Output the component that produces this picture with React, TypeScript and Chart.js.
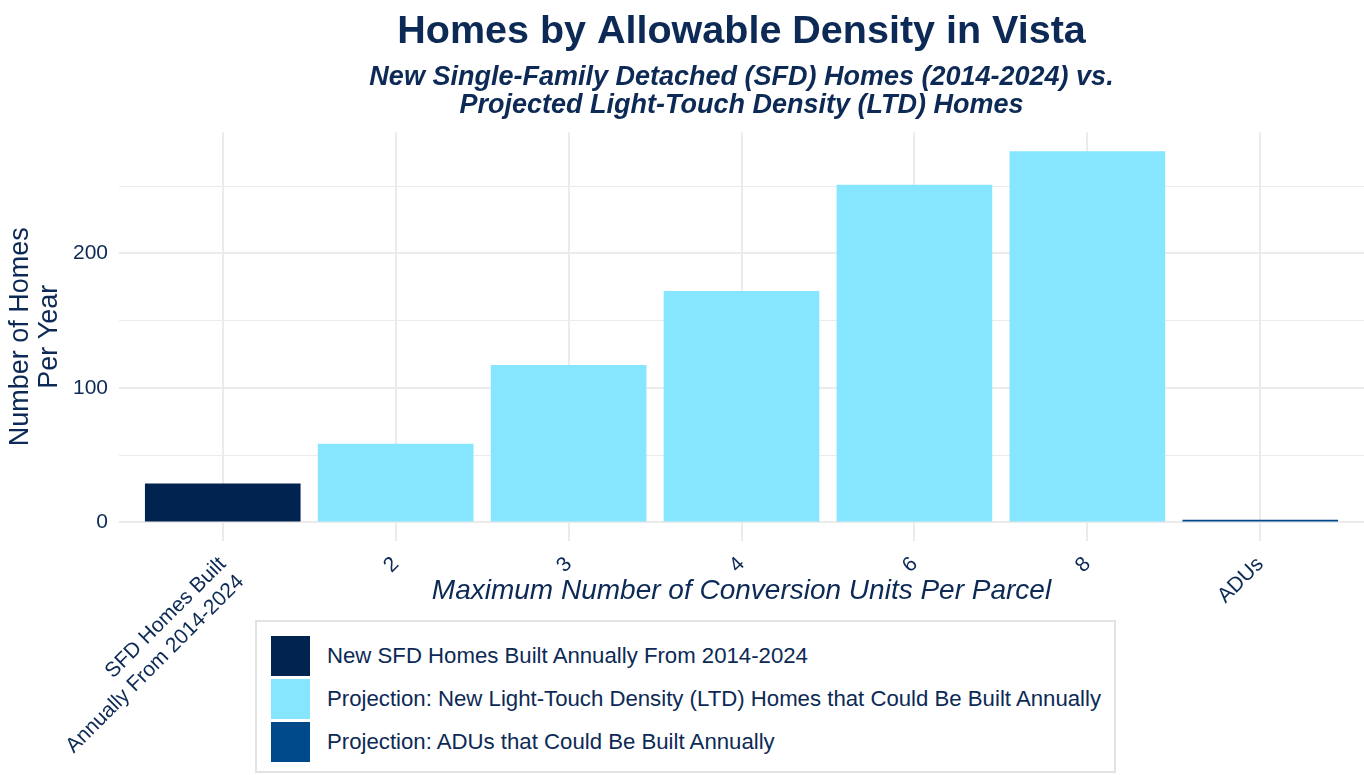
import React, { useEffect, useRef } from "react";
import { Chart, registerables } from "chart.js";

Chart.register(...registerables);

// ---- data ----
const categories: (string | string[])[] = [
  ["SFD Homes Built", "Annually From 2014-2024"],
  "2",
  "3",
  "4",
  "6",
  "8",
  "ADUs",
];
const homesPerYear = [29, 58.5, 117, 172, 251, 276, 2];
const barGroup = ["sfd", "ltd", "ltd", "ltd", "ltd", "ltd", "adu"];
const legendKeys = ["sfd", "ltd", "adu"];
const legendLabels = [
  "New SFD Homes Built Annually From 2014-2024",
  "Projection: New Light-Touch Density (LTD) Homes that Could Be Built Annually",
  "Projection: ADUs that Could Be Built Annually",
];
const yTickValues = [0, 50, 100, 150, 200, 250];
const yRange = [-13.8, 289.8];

const titleText = "Homes by Allowable Density in Vista";
const subtitleText = [
  "New Single-Family Detached (SFD) Homes (2014-2024) vs.",
  "Projected Light-Touch Density (LTD) Homes",
];
const xTitle = "Maximum Number of Conversion Units Per Parcel";
const yTitle = ["Number of Homes", "Per Year"];

// ---- styles ----
const COLORS: Record<string, string> = {
  sfd: "#00234f",
  ltd: "#86e5ff",
  adu: "#004a8c",
};
const TEXT = "#0c2a55";
const GRID = "#ebebeb";
const FAMILY = '"Liberation Sans", Arial, Helvetica, sans-serif';

const xTitlePlugin = {
  id: "xTitlePlugin",
  afterDraw(chart: any) {
    const { ctx, chartArea } = chart;
    ctx.save();
    ctx.font = `italic 28px ${FAMILY}`;
    ctx.fillStyle = TEXT;
    ctx.textAlign = "center";
    ctx.textBaseline = "middle";
    ctx.fillText(xTitle, (chartArea.left + chartArea.right) / 2, 591);
    ctx.restore();
  },
};

export default function App() {
  const canvasRef = useRef<HTMLCanvasElement | null>(null);

  useEffect(() => {
    if (!canvasRef.current) return;
    const chart = new Chart(canvasRef.current, {
      type: "bar",
      data: {
        datasets: [
          {
            data: homesPerYear.map((v, i) => ({ x: i, y: v })),
            backgroundColor: barGroup.map((g) => COLORS[g]),
            borderWidth: 0,
            categoryPercentage: 1,
            barPercentage: 0.9,
          },
        ],
      },
      options: {
        responsive: false,
        animation: false,
        layout: { padding: 0 },
        plugins: {
          legend: { display: false },
          tooltip: { enabled: false },
          title: {
            display: true,
            text: titleText,
            color: TEXT,
            fullSize: false,
            font: { family: FAMILY, size: 39.5, weight: "bold", lineHeight: 1.2 },
            padding: { top: 8, bottom: 8 },
          },
          subtitle: {
            display: true,
            text: subtitleText,
            color: TEXT,
            fullSize: false,
            font: {
              family: FAMILY,
              size: 27,
              weight: "bold",
              style: "italic",
              lineHeight: 1.04,
            },
            padding: { top: 0, bottom: 13 },
          },
        },
        scales: {
          x: {
            type: "linear",
            min: -0.6,
            max: categories.length - 0.4,
            offset: false,
            afterBuildTicks: (s: any) => {
              s.ticks = categories.map((_, i) => ({ value: i }));
            },
            afterFit: (s: any) => {
              s.height = 234;
            },
            grid: {
              color: GRID,
              lineWidth: 2,
              drawTicks: false,
              offset: false,
            },
            border: { display: false },
            ticks: {
              autoSkip: false,
              minRotation: 45,
              maxRotation: 45,
              padding: 11,
              color: TEXT,
              font: { family: FAMILY, size: 21, lineHeight: 1.2 },
              callback: (v: any) => categories[v as number] ?? "",
            },
          },
          y: {
            type: "linear",
            min: yRange[0],
            max: yRange[1],
            afterBuildTicks: (s: any) => {
              s.ticks = yTickValues.map((v) => ({ value: v }));
            },
            afterFit: (s: any) => {
              s.width = 119;
            },
            grid: {
              color: GRID,
              lineWidth: (c: any) =>
                c.tick && c.tick.value % 100 === 0 ? 2 : 1,
              drawTicks: false,
            },
            border: { display: false },
            ticks: {
              padding: 11,
              color: TEXT,
              font: { family: FAMILY, size: 21 },
              callback: (v: any) => (Number(v) % 100 === 0 ? String(v) : ""),
            },
            title: {
              display: true,
              text: yTitle,
              color: TEXT,
              font: { family: FAMILY, size: 27, lineHeight: 1.07 },
              padding: { top: 6.5, bottom: 0 },
            },
          },
        },
      },
      plugins: [xTitlePlugin],
    } as any);
    return () => chart.destroy();
  }, []);

  return (
    <div
      style={{
        position: "absolute",
        left: 0,
        top: 0,
        width: 1364,
        height: 775,
        background: "#ffffff",
        overflow: "hidden",
        fontFamily: FAMILY,
      }}
    >
      <canvas
        ref={canvasRef}
        width={1364}
        height={775}
        style={{ display: "block", position: "absolute", left: 0, top: 0 }}
      />
      <div
        style={{
          position: "absolute",
          left: 255,
          top: 620,
          width: 861,
          height: 153,
          boxSizing: "border-box",
          border: "2px solid #e3e3e3",
          background: "#ffffff",
        }}
      >
        {legendKeys.map((k, i) => (
          <div
            key={k}
            style={{
              position: "absolute",
              left: 14,
              top: 14 + i * 43,
              height: 40,
              display: "flex",
              alignItems: "center",
              whiteSpace: "nowrap",
            }}
          >
            <div
              style={{
                width: 39,
                height: 40,
                background: COLORS[k],
                marginRight: 17,
                flex: "none",
              }}
            />
            <span style={{ fontSize: 22.2, color: TEXT, lineHeight: "40px" }}>
              {legendLabels[i]}
            </span>
          </div>
        ))}
      </div>
    </div>
  );
}
